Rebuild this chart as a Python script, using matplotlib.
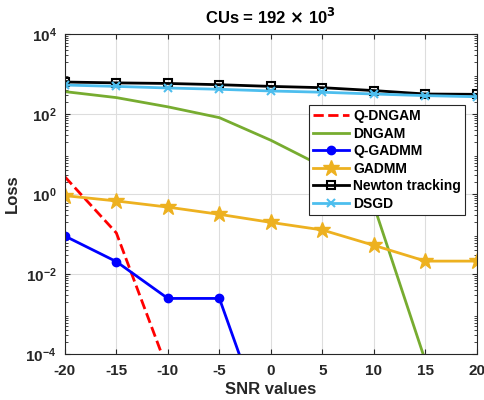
import matplotlib.pyplot as plt
import numpy as np

plt.rcParams['font.family'] = ['Liberation Sans', 'DejaVu Sans']
plt.rcParams['font.weight'] = 'bold'
plt.rcParams['axes.unicode_minus'] = False

snr = [-20, -15, -10, -5, 0, 5, 10, 15, 20]

q_dngam = [2.7, 0.106, 3.9e-5, 1e-9, 1e-10, 1e-10, 1e-10, 1e-10, 1e-10]
dngam = [363, 257, 151, 81, 22, 4.9, 0.51, 6.6e-5, 1e-9]
q_gadmm = [0.089, 0.0204, 0.00245, 0.00245, 5.9e-7, 1e-9, 1e-9, 1e-9, 1e-9]
gadmm = [0.91, 0.67, 0.47, 0.31, 0.195, 0.126, 0.052, 0.021, 0.021]
newton = [630, 600, 580, 540, 490, 455, 385, 316, 310]
dsgd = [530, 490, 447, 415, 376, 350, 316, 288, 270]

fig = plt.figure(figsize=(4.84, 4.0), dpi=100)
ax = fig.add_axes([0.134, 0.115, 0.8515, 0.8])

ax.plot(snr, q_dngam, '--', color='red', lw=2, label='Q-DNGAM')
ax.plot(snr, dngam, '-', color=(0.466, 0.674, 0.188), lw=2, label='DNGAM')
ax.plot(snr, q_gadmm, '-o', color='blue', lw=2, ms=6, label='Q-GADMM')
ax.plot(snr, gadmm, '-*', color=(0.929, 0.694, 0.125), lw=2, ms=12, label='GADMM')
ax.plot(snr, newton, '-s', color='black', lw=2, ms=6, mfc='none', mew=1.5,
        label='Newton tracking')
ax.plot(snr, dsgd, '-x', color=(0.301, 0.745, 0.933), lw=2, ms=6, mew=1.5,
        label='DSGD')

ax.set_yscale('log')
ax.set_xlim(-20, 20)
ax.set_ylim(1e-4, 1e4)
ax.set_xticks(snr)
ax.set_yticks([1e-4, 1e-2, 1e0, 1e2, 1e4])
ax.tick_params(which='both', direction='in', top=True, right=True,
               labelsize=11, colors='#262626', labelcolor='#262626')
ax.tick_params(axis='x', pad=7)
ax.tick_params(axis='y', pad=6)
ax.tick_params(which='minor', length=2)
ax.grid(True, which='major', color='#dddddd', lw=0.8)
for s in ax.spines.values():
    s.set_color('#262626')

ax.set_xlabel('SNR values', fontsize=12, fontweight='bold', color='#262626',
              labelpad=3)
ax.set_ylabel('Loss', fontsize=12, fontweight='bold', color='#262626')
ax.set_title(r'CUs = 192 $\times$ 10$^3$', fontsize=12, fontweight='bold',
             pad=7)

leg = ax.legend(loc='upper right', bbox_to_anchor=(0.971, 0.778), fontsize=10,
                fancybox=False, framealpha=1, edgecolor='#262626',
                borderpad=0.3, labelspacing=0.25, handlelength=2.6,
                handletextpad=0.3, borderaxespad=0)
leg.get_frame().set_linewidth(0.8)

fig.savefig('out.png', dpi=100)
